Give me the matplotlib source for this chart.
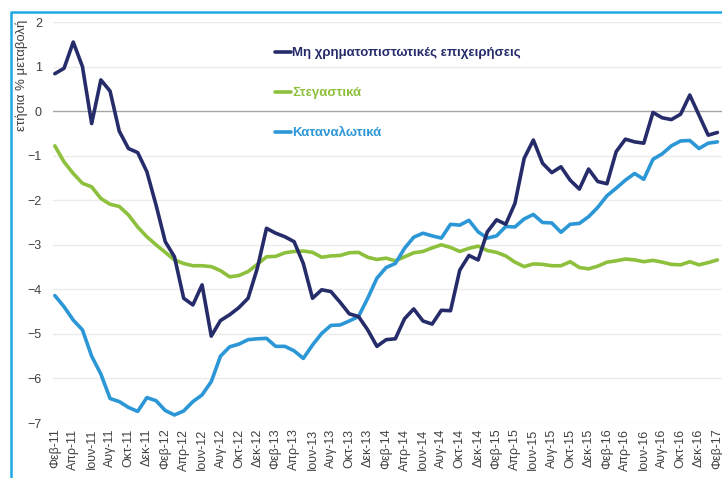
import matplotlib
matplotlib.use("Agg")
import matplotlib.pyplot as plt
from matplotlib.lines import Line2D

plt.rcParams['font.family'] = ['Liberation Sans', 'DejaVu Sans']

# Μήνες: Φεβ-11 ... Φεβ-17 (73 μηνιαίες τιμές)
month_names = ['Ιαν', 'Φεβ', 'Μαρ', 'Απρ', 'Μαϊ', 'Ιουν',
               'Ιουλ', 'Αυγ', 'Σεπ', 'Οκτ', 'Νοε', 'Δεκ']
months = []
for k in range(73):
    m = (1 + k) % 12
    y = 11 + (1 + k) // 12
    months.append(f"{month_names[m]}-{y}")

# Μη χρηματοπιστωτικές επιχειρήσεις
nfc = [0.84, 0.96, 1.55, 1.00, -0.28, 0.70, 0.45, -0.45, -0.84, -0.93,
       -1.36, -2.11, -2.93, -3.27, -4.20, -4.35, -3.90, -5.05, -4.70, -4.57,
       -4.41, -4.20, -3.53, -2.63, -2.74, -2.82, -2.93, -3.42, -4.20, -4.01,
       -4.05, -4.29, -4.55, -4.61, -4.91, -5.28, -5.13, -5.11, -4.66, -4.44,
       -4.71, -4.78, -4.47, -4.48, -3.57, -3.24, -3.34, -2.71, -2.44, -2.54,
       -2.07, -1.06, -0.65, -1.17, -1.38, -1.25, -1.55, -1.75, -1.30, -1.58,
       -1.63, -0.91, -0.63, -0.69, -0.72, -0.03, -0.15, -0.19, -0.07, 0.36,
       -0.09, -0.54, -0.48]

# Στεγαστικά
housing = [-0.78, -1.14, -1.40, -1.62, -1.70, -1.96, -2.09, -2.14, -2.33, -2.60,
           -2.82, -3.00, -3.17, -3.34, -3.42, -3.47, -3.47, -3.49, -3.58, -3.72,
           -3.69, -3.60, -3.44, -3.27, -3.26, -3.18, -3.15, -3.14, -3.17, -3.28,
           -3.25, -3.24, -3.18, -3.17, -3.28, -3.33, -3.30, -3.36, -3.27, -3.18,
           -3.15, -3.07, -3.00, -3.06, -3.15, -3.08, -3.03, -3.13, -3.17, -3.25,
           -3.39, -3.49, -3.43, -3.44, -3.47, -3.47, -3.38, -3.51, -3.54, -3.48,
           -3.39, -3.36, -3.32, -3.34, -3.38, -3.35, -3.39, -3.44, -3.45, -3.38,
           -3.45, -3.40, -3.34]

# Καταναλωτικά
consumer = [-4.14, -4.39, -4.69, -4.91, -5.50, -5.90, -6.45, -6.52, -6.65, -6.74,
            -6.43, -6.50, -6.72, -6.82, -6.73, -6.52, -6.37, -6.07, -5.50, -5.29,
            -5.23, -5.13, -5.11, -5.10, -5.28, -5.28, -5.38, -5.55, -5.25, -4.99,
            -4.81, -4.80, -4.71, -4.61, -4.20, -3.75, -3.51, -3.42, -3.08, -2.83,
            -2.74, -2.80, -2.85, -2.54, -2.56, -2.45, -2.71, -2.85, -2.80, -2.59,
            -2.60, -2.42, -2.32, -2.50, -2.51, -2.72, -2.54, -2.52, -2.37, -2.16,
            -1.90, -1.73, -1.55, -1.40, -1.53, -1.08, -0.96, -0.78, -0.67, -0.66,
            -0.84, -0.72, -0.69]

c_nfc = '#262C6A'
c_house = '#8DC03C'
c_cons = '#2C97D6'

W, H = 722, 478
fig = plt.figure(figsize=(W / 100, H / 100), dpi=100)
ax = fig.add_axes([53 / W, 1 - 423 / H, (W - 53) / W, (423 - 22) / H])

x = list(range(len(months)))
style = dict(lw=2.6, solid_joinstyle='round', solid_capstyle='round')
ax.plot(x, nfc, color=c_nfc, label='Μη χρηματοπιστωτικές επιχειρήσεις',
        zorder=4, **style)
ax.plot(x, housing, color=c_house, label='Στεγαστικά', zorder=3, **style)
ax.plot(x, consumer, color=c_cons, label='Καταναλωτικά', zorder=3, **style)

ax.set_xlim(-0.2, 72.5)
ax.set_ylim(-7, 2)
ax.set_yticks(range(-7, 3))
for v in range(-7, 3):
    ax.axhline(v, color='#A6A6A6' if v == 0 else '#EBEBEB', lw=1, zorder=1)

ax.set_xticks(x[::2])
ax.set_xticklabels(months[::2], rotation=90, fontsize=9, color='#404040')
ax.tick_params(axis='x', length=0, pad=4)
ax.tick_params(axis='y', length=0, pad=8, labelsize=9, labelcolor='#404040')
for s in ax.spines.values():
    s.set_visible(False)

fig.text(22 / W, 1 - 20 / H, 'ετήσια % μεταβολή', rotation=90,
         ha='center', va='top', fontsize=9.5, color='#404040')

leg = ax.legend(loc='upper left', bbox_to_anchor=(275 / W, 1 - 47 / H),
                bbox_transform=fig.transFigure, frameon=False, borderpad=0,
                borderaxespad=0, handlelength=1.2, handletextpad=0.1,
                labelspacing=2.1, labelcolor='linecolor',
                prop={'weight': 'bold', 'size': 9.5})

# μπλε πλαίσιο (πάνω και αριστερά)
fig.add_artist(Line2D([10.5 / W, 10.5 / W, 1], [0, 1 - 11.5 / H, 1 - 11.5 / H],
                      transform=fig.transFigure, color='#1FA8E6', lw=1.8))

fig.savefig('out.png', dpi=100)
